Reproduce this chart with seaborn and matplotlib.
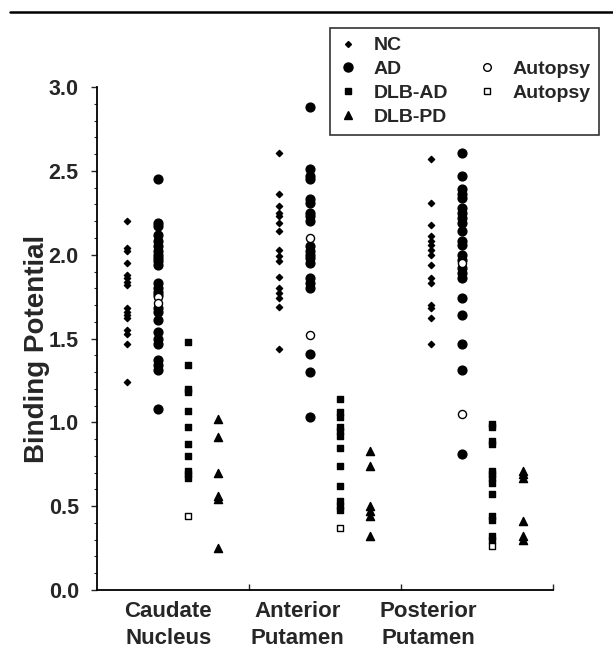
"""
Striatal binding potential by diagnostic group: NC, AD, DLB-AD, DLB-PD,
with autopsy-confirmed cases drawn as open markers.
"""
import matplotlib
matplotlib.use("Agg")
import matplotlib.pyplot as plt
from matplotlib.lines import Line2D
import numpy as np
import pandas as pd
import seaborn as sns

REGIONS = ["Caudate\nNucleus", "Anterior\nPutamen", "Posterior\nPutamen"]
GROUPS = ["NC", "AD", "DLB-AD", "DLB-PD"]

# ── Values ───────────────────────────────────────────────────────────────────
nc_caudate = [2.20, 2.04, 2.02, 1.95, 1.88, 1.86, 1.84, 1.82, 1.68, 1.66,
              1.64, 1.62, 1.55, 1.53, 1.47, 1.24]
nc_anterior = [2.61, 2.36, 2.29, 2.25, 2.23, 2.19, 2.14, 2.03, 1.99, 1.96,
               1.87, 1.80, 1.77, 1.74, 1.69, 1.44]
nc_posterior = [2.57, 2.31, 2.18, 2.11, 2.08, 2.06, 2.03, 2.00, 1.94, 1.86,
                1.83, 1.70, 1.68, 1.62, 1.47]

ad_caudate = [2.45, 2.19, 2.17, 2.12, 2.08, 2.05, 2.02, 2.00, 1.98, 1.96,
              1.94, 1.83, 1.80, 1.78, 1.76, 1.68, 1.66, 1.61, 1.54, 1.50,
              1.47, 1.37, 1.34, 1.31, 1.08]
ad_anterior = [2.88, 2.51, 2.47, 2.45, 2.33, 2.31, 2.25, 2.23, 2.20, 2.05,
               2.02, 2.00, 1.98, 1.95, 1.86, 1.83, 1.80, 1.41, 1.30, 1.03]
ad_posterior = [2.61, 2.47, 2.39, 2.36, 2.34, 2.28, 2.25, 2.22, 2.19, 2.14,
                2.08, 2.06, 2.00, 1.97, 1.92, 1.89, 1.86, 1.74, 1.64, 1.47,
                1.31, 0.81]
ad_autopsy_caudate = [1.75, 1.71]
ad_autopsy_anterior = [2.10, 1.52]
ad_autopsy_posterior = [1.95, 1.05]

dlbad_caudate = [1.48, 1.34, 1.20, 1.18, 1.07, 0.97, 0.87, 0.80, 0.71, 0.69, 0.67]
dlbad_anterior = [1.14, 1.06, 1.03, 0.97, 0.95, 0.92, 0.85, 0.74, 0.62, 0.53,
                  0.50, 0.48]
dlbad_posterior = [0.99, 0.97, 0.89, 0.87, 0.71, 0.69, 0.67, 0.64, 0.57, 0.44,
                   0.42, 0.32, 0.30]
dlbad_autopsy_caudate = [0.44]
dlbad_autopsy_anterior = [0.37]
dlbad_autopsy_posterior = [0.26]

dlbpd_caudate = [1.02, 0.91, 0.70, 0.56, 0.54, 0.25]
dlbpd_anterior = [0.83, 0.74, 0.50, 0.47, 0.44, 0.32]
dlbpd_posterior = [0.71, 0.69, 0.67, 0.41, 0.32, 0.30]

# ── Long table ───────────────────────────────────────────────────────────────
series = {
    ("NC", False): [nc_caudate, nc_anterior, nc_posterior],
    ("AD", False): [ad_caudate, ad_anterior, ad_posterior],
    ("AD", True): [ad_autopsy_caudate, ad_autopsy_anterior, ad_autopsy_posterior],
    ("DLB-AD", False): [dlbad_caudate, dlbad_anterior, dlbad_posterior],
    ("DLB-AD", True): [dlbad_autopsy_caudate, dlbad_autopsy_anterior,
                       dlbad_autopsy_posterior],
    ("DLB-PD", False): [dlbpd_caudate, dlbpd_anterior, dlbpd_posterior],
}
rows = []
for (group, autopsy), per_region in series.items():
    for r, vals in enumerate(per_region):
        for v in vals:
            rows.append({"region": r, "group": group, "autopsy": autopsy, "bp": v})
df = pd.DataFrame(rows)

# column offset of each group inside a region slot
offset = {"NC": 0.2, "AD": 0.4, "DLB-AD": 0.6, "DLB-PD": 0.8}
df["x"] = df["region"] + df["group"].map(offset)

# marker, size, face colour per kind
STYLE = {
    ("NC", False): ("D", 10, "black"),
    ("AD", False): ("o", 40, "black"),
    ("AD", True): ("o", 34, "white"),
    ("DLB-AD", False): ("s", 18, "black"),
    ("DLB-AD", True): ("s", 14, "white"),
    ("DLB-PD", False): ("^", 34, "black"),
}

# ── Plot ─────────────────────────────────────────────────────────────────────
sns.set_style("ticks")
plt.rcParams["font.family"] = ["Liberation Sans", "DejaVu Sans"]
plt.rcParams["font.weight"] = "bold"

fig = plt.figure(figsize=(6.13, 6.53), dpi=100)
ax = fig.add_axes([0.158, 0.0965, 0.744, 0.770])

for key, (marker, size, face) in STYLE.items():
    sub = df[(df["group"] == key[0]) & (df["autopsy"] == key[1])]
    sns.scatterplot(data=sub, x="x", y="bp", marker=marker, s=size,
                    color=face, edgecolor="black", linewidth=1.0,
                    legend=False, ax=ax, zorder=3)

ax.set_xlim(0, 3)
ax.set_ylim(0, 3.0)
ax.set_xlabel("")
ax.set_ylabel("Binding Potential", fontsize=20, fontweight="bold")
ax.yaxis.set_label_coords(-0.102, 0.48)

ax.set_yticks(np.arange(0, 3.01, 0.5))
ax.set_yticklabels([f"{t:.1f}" for t in np.arange(0, 3.01, 0.5)],
                   fontsize=15.5, fontweight="bold")
ax.set_yticks(np.arange(0, 3.01, 0.1), minor=True)
ax.tick_params(axis="y", which="major", direction="out", length=4, width=1, pad=9)
ax.tick_params(axis="y", which="minor", direction="out", length=2.5, width=0.8)

ax.set_xticks([0.47, 1.32, 2.18])
ax.set_xticklabels(REGIONS, fontsize=16, fontweight="bold", linespacing=1.4)
ax.set_xticks([1, 2, 3], minor=True)
ax.tick_params(axis="x", which="major", length=0, pad=8)
ax.tick_params(axis="x", which="minor", direction="in", length=4, width=1)

sns.despine(ax=ax)
for side in ("left", "bottom"):
    ax.spines[side].set_linewidth(1.3)
    ax.spines[side].set_color("black")

# ── Legend ───────────────────────────────────────────────────────────────────
def handle(marker, ms, face):
    return Line2D([], [], linestyle="none", marker=marker, markersize=ms,
                  markerfacecolor=face, markeredgecolor="black", markeredgewidth=1)

blank = Line2D([], [], linestyle="none")
handles = [handle("D", 3, "black"), handle("o", 6.5, "black"),
           handle("s", 4.5, "black"), handle("^", 6, "black"),
           blank, handle("o", 5.5, "white"), handle("s", 4, "white"), blank]
labels = ["NC", "AD", "DLB-AD", "DLB-PD", "", "Autopsy", "Autopsy", ""]
leg = fig.legend(handles, labels, ncol=2, loc="upper left",
                 bbox_to_anchor=(330 / 613, 1 - 28 / 653),
                 bbox_transform=fig.transFigure, frameon=True, fancybox=False,
                 prop={"size": 14, "weight": "bold"}, borderpad=0.45,
                 handlelength=1.0, handletextpad=0.8, columnspacing=1.5,
                 labelspacing=0.32, borderaxespad=0)
leg.get_frame().set_edgecolor("black")
leg.get_frame().set_linewidth(1.2)

# rule across the top of the page
fig.add_artist(Line2D([10 / 613, 1.0], [1 - 12 / 653] * 2, color="black",
                      linewidth=1.8, transform=fig.transFigure))

fig.savefig("out.png", dpi=100)
plt.close(fig)
